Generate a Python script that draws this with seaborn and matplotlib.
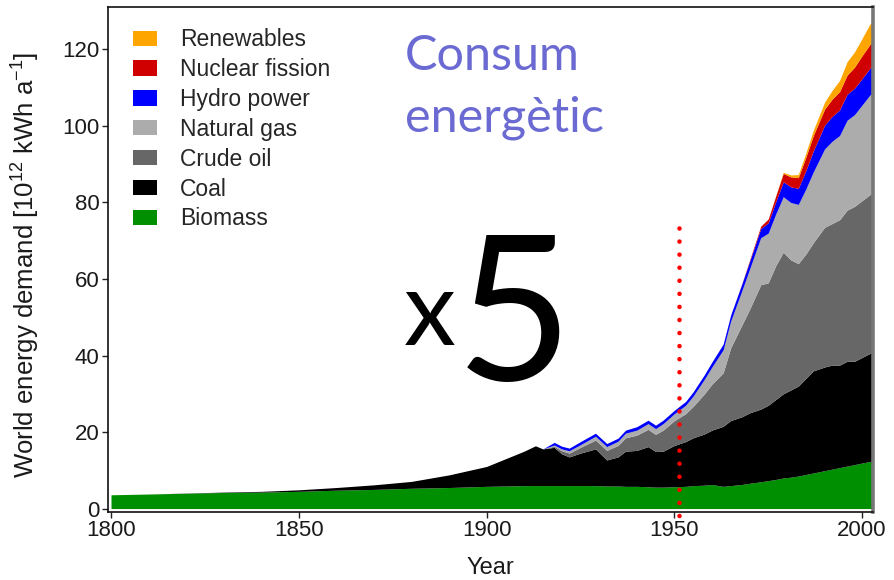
import seaborn as sns
import matplotlib.pyplot as plt

years = [1800, 1810, 1820, 1830, 1840, 1850, 1860, 1870, 1880, 1890,
         1900, 1905, 1910, 1913, 1915, 1918, 1920, 1922, 1925, 1929,
         1932, 1935, 1937, 1940, 1943, 1945, 1947, 1950, 1953, 1955,
         1958, 1960, 1963, 1965, 1968, 1970, 1973, 1975, 1977, 1979,
         1981, 1983, 1985, 1987, 1990, 1992, 1994, 1996, 1998, 2000,
         2002, 2003]

biomass = [3.6, 3.8, 4.0, 4.2, 4.3, 4.5, 4.8, 5.0, 5.3, 5.5,
           5.8, 5.9, 6.0, 6.0, 6.0, 6.0, 6.0, 6.0, 6.0, 6.0,
           5.9, 5.9, 5.8, 5.8, 5.7, 5.6, 5.6, 5.7, 5.8, 6.0,
           6.1, 6.3, 5.8, 6.0, 6.3, 6.6, 7.0, 7.3, 7.6, 8.0,
           8.2, 8.5, 8.9, 9.3, 9.9, 10.3, 10.7, 11.1, 11.5, 11.9,
           12.3, 12.4]
coal = [0, 0, 0.05, 0.1, 0.2, 0.4, 0.7, 1.2, 1.8, 3.3,
        5.2, 7.1, 9.0, 10.4, 9.6, 10.0, 8.3, 7.5, 8.5, 9.6,
        6.8, 7.6, 9.2, 9.4, 10.5, 9.3, 9.4, 10.8, 11.7, 12.5,
        13.4, 14.2, 15.7, 17.0, 17.7, 18.4, 19.0, 19.7, 20.9, 22.0,
        22.8, 23.5, 25.1, 26.7, 27.1, 27.2, 26.8, 27.4, 27.0, 27.6,
        28.2, 28.6]
crude_oil = [0, 0, 0, 0, 0, 0, 0, 0, 0, 0,
             0, 0, 0, 0, 0, 0.3, 0.8, 1.0, 1.5, 2.3,
             2.5, 3.0, 3.5, 4.0, 4.5, 4.5, 5.5, 6.5, 7.3, 8.2,
             10.5, 12.0, 14.0, 19.0, 24.0, 27.0, 32.5, 32.0, 35.0, 37.0,
             34.0, 32.0, 32.5, 33.5, 36.5, 37.0, 38.0, 39.5, 40.5, 41.0,
             41.5, 41.5]
natural_gas = [0, 0, 0, 0, 0, 0, 0, 0, 0, 0,
               0, 0, 0, 0, 0, 0.3, 0.5, 0.6, 0.7, 1.0,
               1.0, 1.1, 1.2, 1.3, 1.5, 1.5, 1.7, 1.8, 2.2, 2.7,
               3.8, 4.5, 6.0, 7.0, 9.0, 10.5, 12.3, 13.0, 13.5, 14.5,
               15.0, 15.5, 17.0, 18.5, 20.5, 21.5, 22.0, 23.5, 24.0, 25.0,
               26.0, 26.5]
hydro = [0, 0, 0, 0, 0, 0, 0, 0, 0, 0,
         0, 0, 0, 0, 0, 0.7, 0.7, 0.7, 0.8, 0.8,
         0.8, 0.8, 0.8, 0.9, 0.9, 0.9, 0.9, 0.9, 1.0, 1.1,
         1.2, 1.3, 1.5, 1.6, 1.8, 2.0, 2.4, 2.7, 3.2, 3.9,
         4.1, 4.2, 4.8, 5.5, 6.2, 6.5, 6.7, 6.8, 6.9, 6.9,
         7.0, 7.0]
nuclear = [0, 0, 0, 0, 0, 0, 0, 0, 0, 0,
           0, 0, 0, 0, 0, 0, 0, 0, 0, 0,
           0, 0, 0, 0, 0, 0, 0, 0, 0, 0,
           0, 0, 0, 0, 0.1, 0.3, 0.6, 1.0, 1.5, 2.2,
           2.6, 2.8, 3.5, 4.0, 4.2, 4.5, 4.8, 5.0, 5.5, 6.0,
           6.2, 6.3]
renewables = [0, 0, 0, 0, 0, 0, 0, 0, 0, 0,
              0, 0, 0, 0, 0, 0, 0, 0, 0, 0,
              0, 0, 0, 0, 0, 0, 0, 0, 0, 0,
              0, 0, 0, 0, 0, 0, 0, 0, 0.1, 0.3,
              0.5, 0.8, 1.1, 1.4, 1.8, 2.3, 2.9, 3.5, 4.0, 4.5,
              5.3, 5.5]

labels = ['Biomass', 'Coal', 'Crude oil', 'Natural gas', 'Hydro power',
          'Nuclear fission', 'Renewables']
colors = ['#008f00', '#000000', '#676767', '#acacac', '#0000ff',
          '#d00000', '#ffa500']
marker_year = 1951.3

sns.set_theme(style='white')
plt.rcParams['font.family'] = ['Liberation Sans', 'DejaVu Sans']
plt.rcParams['mathtext.fontset'] = 'custom'
plt.rcParams['mathtext.rm'] = 'Liberation Sans'
plt.rcParams['mathtext.default'] = 'regular'

W, H = 895, 580
fig = plt.figure(figsize=(W / 100, H / 100), dpi=100)
ax = fig.add_axes([108 / W, 1 - 512 / H, 765 / W, 505 / H])

polys = ax.stackplot(years, biomass, coal, crude_oil, natural_gas, hydro,
                     nuclear, renewables, colors=colors, labels=labels,
                     linewidth=0)

# red dotted marker line
ax.plot([marker_year, marker_year], [73.4, -2.5], color='red', lw=3.3,
        linestyle=(0, (0.001, 2.85)), dash_capstyle='round', clip_on=False,
        zorder=5)

ax.set_xlim(1799.2, 2002.9)
ax.set_ylim(-0.9, 131.1)
ax.set_xticks([1800, 1850, 1900, 1950, 2000])
ax.set_yticks([0, 20, 40, 60, 80, 100, 120])
ax.tick_params(axis='both', which='major', direction='out', length=4,
               width=1, color='#222222', labelsize=16, labelcolor='#1a1a1a',
               left=True, bottom=True, pad=2)

for side in ['left', 'bottom', 'top']:
    ax.spines[side].set_color('#111111')
    ax.spines[side].set_linewidth(1.2)
ax.spines['right'].set_color('#777777')
ax.spines['right'].set_linewidth(2.6)

ax.set_xlabel('Year', fontsize=17, color='#1a1a1a')
ax.set_ylabel(r'World energy demand [10$^{12}$ kWh a$^{-1}$]',
              fontsize=18.5, color='#1a1a1a')
ax.xaxis.set_label_coords(0.5, -0.089)
ax.yaxis.set_label_coords(-0.086, 0.489)

ax.legend(polys[::-1], labels[::-1], loc='upper left',
          bbox_to_anchor=(0.033, 0.958), frameon=False, fontsize=16.5,
          handlelength=1.05, handleheight=0.65, handletextpad=1.0,
          labelspacing=0.30, borderpad=0, borderaxespad=0)

fig.text(405 / W, 1 - 70 / H, 'Consum', family='Lato', fontsize=35,
         color='#6a6ad2', va='baseline', ha='left')
fig.text(405 / W, 1 - 131 / H, 'energètic', family='Lato', fontsize=35,
         color='#6a6ad2', va='baseline', ha='left')
fig.text(404 / W, 1 - 345 / H, 'x', family='Lato', fontsize=75,
         color='black', va='baseline', ha='left')
fig.text(456 / W, 1 - 380 / H, '5', family='Lato', fontsize=145,
         color='black', va='baseline', ha='left')

fig.savefig('out.png', dpi=100)
